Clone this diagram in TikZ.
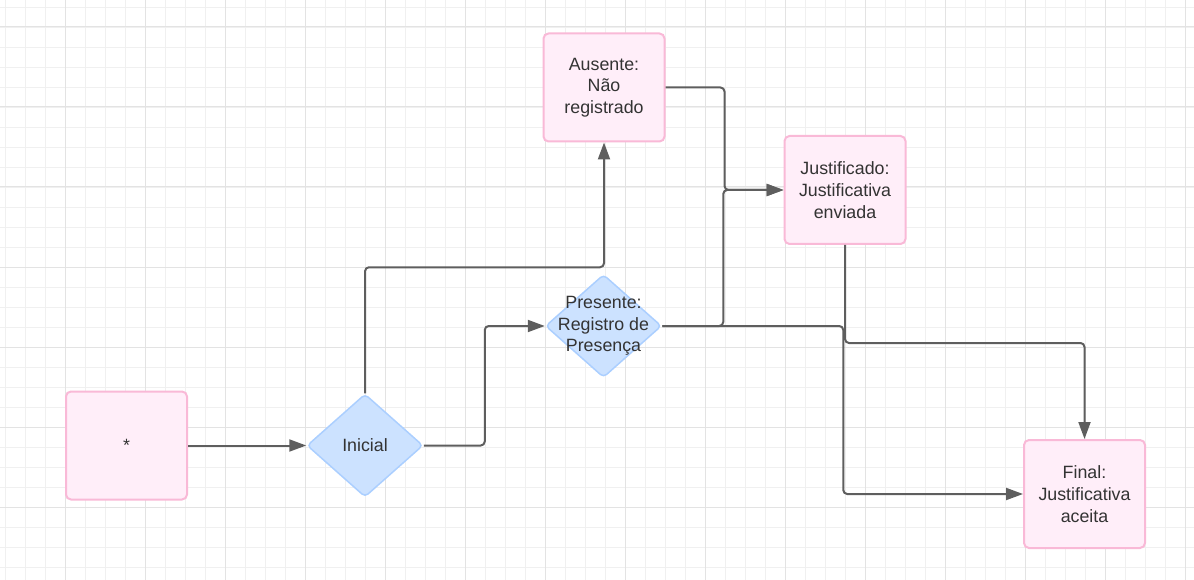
\documentclass[tikz,border=0pt]{standalone}
\usepackage{fontspec}
\setmainfont{Liberation Sans}
\usetikzlibrary{shapes.geometric,arrows.meta}
\definecolor{boxfill}{HTML}{FFEEF9}
\definecolor{boxline}{HTML}{F9B9D7}
\definecolor{dfill}{HTML}{CCE2FF}
\definecolor{dline}{HTML}{ABCFFF}
\definecolor{edge}{HTML}{5E5E5E}
\definecolor{txt}{HTML}{333333}
\definecolor{gminor}{HTML}{F0F0F0}
\definecolor{gmajor}{HTML}{E3E3E3}
\tikzset{
  statebox/.style={draw=boxline, fill=boxfill, line width=2pt, rounded corners=5pt,
    minimum width=121pt, minimum height=108pt, inner sep=0pt},
  decision/.style={draw=dline, fill=dfill, line width=1.5pt, shape=diamond, rounded corners=4pt,
    minimum width=116pt, minimum height=103pt, inner sep=0pt, aspect=1.126},
  lbl/.style={text=txt, align=center, font=\fontsize{17.8pt}{21.7pt}\selectfont},
  conn/.style={draw=edge, line width=2pt, rounded corners=4pt, -{Triangle[length=17pt,width=12pt]}}
}
\begin{document}
\begin{tikzpicture}[x=1pt,y=-1pt]
\useasboundingbox (0,0) rectangle (1194,580);
\fill[white] (0,0) rectangle (1194,580);
% grid
\foreach \i in {0,...,59} {\draw[gminor,line width=0.9pt] (5+20*\i,0) -- (5+20*\i,580);}
\foreach \j in {0,...,28} {\draw[gminor,line width=0.9pt] (0,7+20*\j) -- (1194,7+20*\j);}
\foreach \i in {0,...,14} {\draw[gmajor,line width=1pt] (65+80*\i,0) -- (65+80*\i,580);}
\foreach \j in {0,...,6} {\draw[gmajor,line width=1pt] (0,27+80*\j) -- (1194,27+80*\j);}
% nodes
\node[statebox] (star) at (126.5,445.5) {};
\node[lbl] (startxt) at (star) {*};
\node[decision] (ini) at (365,445.5) {};
\node[lbl] (initxt) at (ini) {Inicial};
\node[decision] (pres) at (603.5,326) {};
\node[lbl] (prestxt) at (pres) {Presente:\\Registro de\\Presença};
\node[statebox] (aus) at (604,87.5) {};
\node[lbl] (austxt) at (aus) {Ausente:\\Não\\registrado};
\node[statebox] (jus) at (845,190) {};
\node[lbl] (justxt) at (jus) {Justificado:\\Justificativa\\enviada};
\node[statebox] (fin) at (1084.5,494) {};
\node[lbl] (fintxt) at (fin) {Final:\\Justificativa\\aceita};
% connectors
\draw[conn] (star.east) -- (ini.west);
\draw[conn] (ini.east) -- ++(61,0) |- (pres.west);
\draw[conn] (ini.north) -- ++(0,-126) -| (aus.south);
\draw[conn] (aus.east) -- ++(59,0) |- (jus.west);
\draw[conn] (pres.east) -- ++(61,0) |- (jus.west);
\draw[conn] (pres.east) -- ++(181,0) |- (fin.west);
\draw[conn] (jus.south) -- ++(0,98) -| (fin.north);
\end{tikzpicture}
\end{document}
